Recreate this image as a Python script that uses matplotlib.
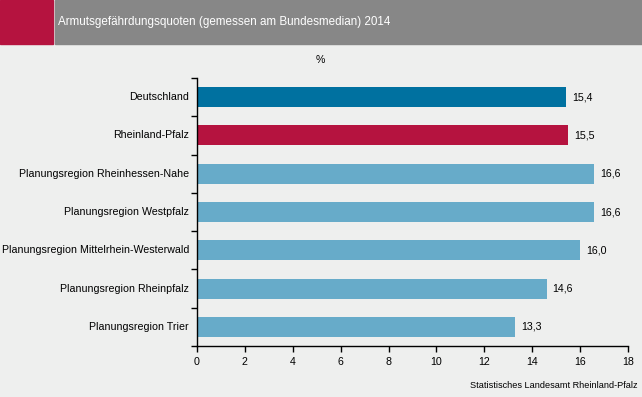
"""Armutsgefährdungsquoten 2014 - horizontales Balkendiagramm."""
import matplotlib

matplotlib.use("Agg")
import matplotlib.pyplot as plt
import matplotlib.transforms as mtransforms
from matplotlib.patches import Rectangle

plt.rcParams["font.family"] = ["Liberation Sans", "DejaVu Sans"]

regions = [
    "Deutschland",
    "Rheinland-Pfalz",
    "Planungsregion Rheinhessen-Nahe",
    "Planungsregion Westpfalz",
    "Planungsregion Mittelrhein-Westerwald",
    "Planungsregion Rheinpfalz",
    "Planungsregion Trier",
]
quotes = [15.4, 15.5, 16.6, 16.6, 16.0, 14.6, 13.3]
bar_colors = ["#0071a0", "#b5133f", "#67abc9", "#67abc9", "#67abc9", "#67abc9", "#67abc9"]
x_ticks = list(range(0, 19, 2))

BG = "#eeefee"

fig = plt.figure(figsize=(6.42, 3.97), dpi=100, facecolor=BG)

# Kopfzeile: roter Block + grauer Balken mit Titel
fig.patches.append(Rectangle((0, 1 - 44 / 397), 53 / 642, 44 / 397,
                             transform=fig.transFigure, color="#b5133f", zorder=0))
fig.patches.append(Rectangle((55 / 642, 1 - 44 / 397), 1, 44 / 397,
                             transform=fig.transFigure, color="#878787", zorder=0))
fig.text(58 / 642, 1 - 22 / 397, "Armutsgefährdungsquoten (gemessen am Bundesmedian) 2014",
         color="white", fontsize=8.4, va="center", ha="left")

ax = fig.add_axes([197 / 642, 1 - 346 / 397, (628 - 197) / 642, (346 - 78) / 397])
ax.set_facecolor(BG)

n = len(regions)
pos = list(range(n))
ax.barh(pos, quotes, color=bar_colors, height=0.52, zorder=2)
for p, v in zip(pos, quotes):
    ax.text(v + 0.25, p, f"{v:.1f}".replace(".", ","), va="center", ha="left", fontsize=7.7)

ax.set_ylim(n - 0.5, -0.5)
ax.set_xlim(0, 18)
ax.set_xticks(x_ticks)
ax.set_xticklabels([str(t) for t in x_ticks], fontsize=7.7)

# Kategorienamen ohne Ticks, Ticks an den Kategoriegrenzen
ax.set_yticks([p - 0.5 for p in range(n + 1)])
ax.set_yticklabels([])
ax.tick_params(axis="y", length=4, width=1)
ax.tick_params(axis="x", length=4, width=1, pad=4)
label_tr = ax.get_yaxis_transform() + mtransforms.ScaledTranslation(-8 / 100, 0, fig.dpi_scale_trans)
for p, name in zip(pos, regions):
    ax.text(0, p, name, transform=label_tr, ha="right", va="center", fontsize=7.65)

for side in ("top", "right"):
    ax.spines[side].set_visible(False)
for side in ("left", "bottom"):
    ax.spines[side].set_linewidth(1)

fig.text(320 / 642, 1 - 60 / 397, "%", fontsize=7.7, ha="center", va="center")
fig.text(637 / 642, 1 - 386 / 397, "Statistisches Landesamt Rheinland-Pfalz",
         fontsize=6.6, ha="right", va="center")

fig.savefig("out.png", dpi=100, facecolor=BG)
